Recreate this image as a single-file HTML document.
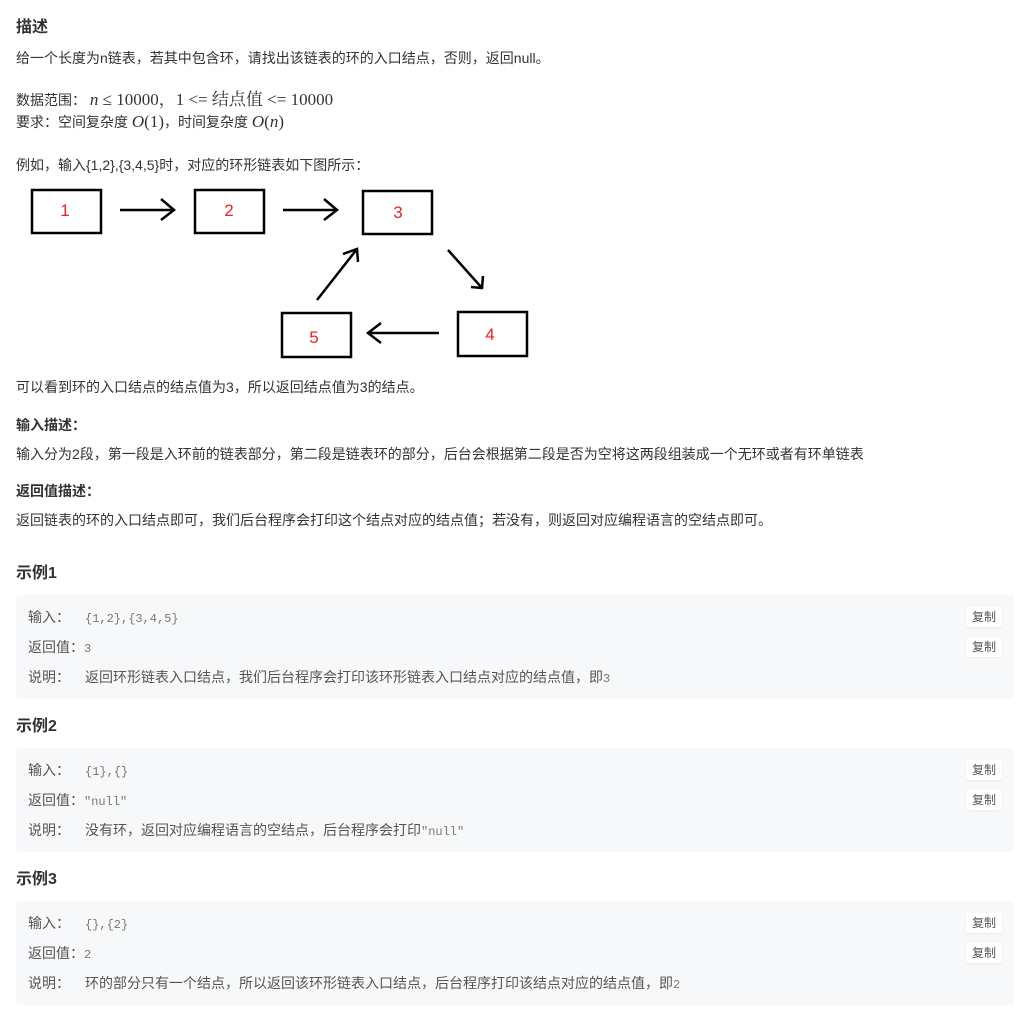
<!DOCTYPE html>
<html><head><meta charset="utf-8"><style>
body{margin:0;width:1016px;height:1022px;background:#fff;position:relative;font-family:"Liberation Sans","Noto Sans CJK SC",sans-serif;color:#333;overflow:hidden}
.t{position:absolute;left:16px;font-size:14px;white-space:nowrap;line-height:16px}
.h{position:absolute;left:16px;font-size:16px;font-weight:bold;color:#333;line-height:20px}
.b{font-weight:bold}
.m{font-family:"Liberation Serif","Noto Serif CJK SC",serif;font-size:17px}
.box{position:absolute;left:16px;width:998px;height:104px;background:#f7f8fa;border-radius:4px}
.r{position:absolute;left:12px;font-size:14px;color:#555;white-space:nowrap;line-height:16px}
.r code{font-family:"Liberation Mono",monospace;font-size:12px;color:#777}
.v{position:absolute;left:57px}
.cp{position:absolute;left:950px;width:36px;height:20px;background:#fff;border-radius:3px;font-size:12px;color:#555;text-align:center;line-height:20px;box-shadow:0 1px 2px rgba(0,0,0,.06)}
</style></head><body>
<div class="h" style="top:18px">描述</div>
<div class="t" style="top:50px">给一个长度为n链表，若其中包含环，请找出该链表的环的入口结点，否则，返回null。</div>
<div class="t" style="top:92px">数据范围： <span class="m"><i>n</i> ≤ 10000，1 &lt;= 结点值 &lt;= 10000</span></div>
<div class="t" style="top:114px">要求：空间复杂度 <span class="m"><i>O</i>(1)</span>，时间复杂度 <span class="m"><i>O</i>(<i>n</i>)</span></div>
<div class="t" style="top:157px">例如，输入{1,2},{3,4,5}时，对应的环形链表如下图所示：</div>
<svg style="position:absolute;left:0;top:0" width="1016" height="380">
<g fill="none" stroke="#000" stroke-width="2.5">
<rect x="32" y="190" width="69" height="43"/><rect x="195" y="190" width="69" height="43"/><rect x="363" y="191" width="69" height="43"/><rect x="458" y="312" width="69" height="44"/><rect x="282" y="313" width="69" height="44"/>
<path d="M120 210H174M161 199L174 210L161 220"/>
<path d="M283 210H337M324 199L337 210L324 220"/>
<path d="M448 250L482 288M471 287L482 288L483 276"/>
<path d="M317 300L357 249M343 254L357 249L358 262"/>
<path d="M439 333H368M381 323L368 333L381 343"/>
</g>
<g fill="#e22" font-family="Liberation Sans" font-size="17" text-anchor="middle">
<text x="65" y="216">1</text><text x="229" y="216">2</text><text x="398" y="218">3</text><text x="490" y="340">4</text><text x="314" y="343">5</text>
</g></svg>
<div class="t" style="top:379px">可以看到环的入口结点的结点值为3，所以返回结点值为3的结点。</div>
<div class="t b" style="top:417px">输入描述：</div>
<div class="t" style="top:446px">输入分为2段，第一段是入环前的链表部分，第二段是链表环的部分，后台会根据第二段是否为空将这两段组装成一个无环或者有环单链表</div>
<div class="t b" style="top:483px">返回值描述：</div>
<div class="t" style="top:512px">返回链表的环的入口结点即可，我们后台程序会打印这个结点对应的结点值；若没有，则返回对应编程语言的空结点即可。</div>

<div class="h" style="top:564px">示例1</div>
<div class="box" style="top:595px">
<div class="r" style="top:14px">输入：<span class="v"><code>{1,2},{3,4,5}</code></span></div>
<div class="r" style="top:44px">返回值：<code>3</code></div>
<div class="r" style="top:74px">说明：<span class="v">返回环形链表入口结点，我们后台程序会打印该环形链表入口结点对应的结点值，即<code>3</code></span></div>
<div class="cp" style="top:12px">复制</div><div class="cp" style="top:42px">复制</div>
</div>
<div class="h" style="top:717px">示例2</div>
<div class="box" style="top:748px">
<div class="r" style="top:14px">输入：<span class="v"><code>{1},{}</code></span></div>
<div class="r" style="top:44px">返回值：<code>"null"</code></div>
<div class="r" style="top:74px">说明：<span class="v">没有环，返回对应编程语言的空结点，后台程序会打印<code>"null"</code></span></div>
<div class="cp" style="top:12px">复制</div><div class="cp" style="top:42px">复制</div>
</div>
<div class="h" style="top:870px">示例3</div>
<div class="box" style="top:901px">
<div class="r" style="top:14px">输入：<span class="v"><code>{},{2}</code></span></div>
<div class="r" style="top:44px">返回值：<code>2</code></div>
<div class="r" style="top:74px">说明：<span class="v">环的部分只有一个结点，所以返回该环形链表入口结点，后台程序打印该结点对应的结点值，即<code>2</code></span></div>
<div class="cp" style="top:12px">复制</div><div class="cp" style="top:42px">复制</div>
</div>
</body></html>
